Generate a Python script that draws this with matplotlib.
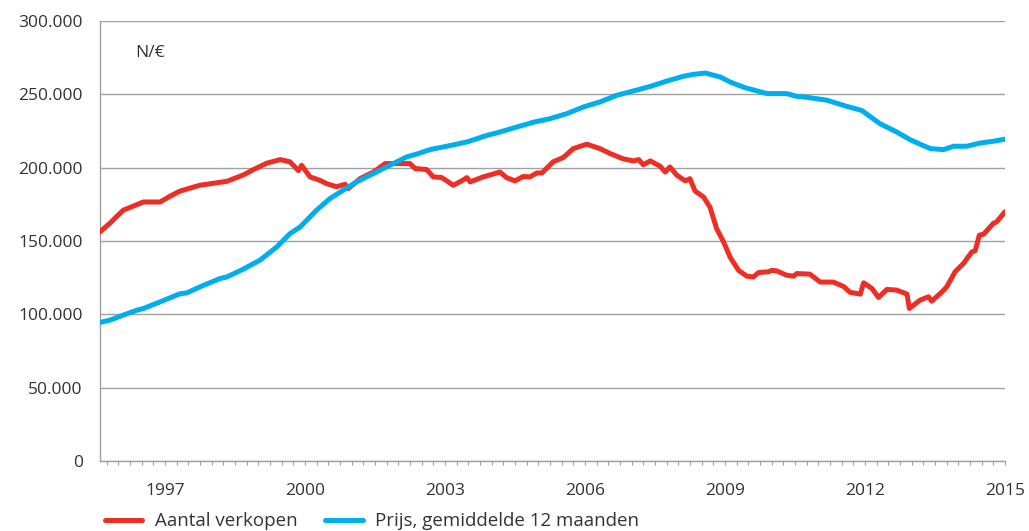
import numpy as np
import matplotlib
matplotlib.use('Agg')
from matplotlib import pyplot as plt
from matplotlib.ticker import MultipleLocator, FixedLocator, FuncFormatter

# Aantal verkopen
sales_year = [1995.6, 1995.82, 1995.93, 1996.11, 1996.54, 1996.90, 1997.11, 1997.32, 1997.75,
              1998.33, 1998.68, 1998.90, 1999.18, 1999.47, 1999.68, 1999.86, 1999.93, 2000.11,
              2000.32, 2000.47, 2000.68, 2000.86, 2000.93, 2001.18, 2001.47, 2001.72, 2002.25,
              2002.36, 2002.61, 2002.75, 2002.93, 2003.18, 2003.36, 2003.47, 2003.54, 2003.82,
              2004.18, 2004.32, 2004.50, 2004.68, 2004.82, 2004.97, 2005.08, 2005.32, 2005.54,
              2005.75, 2006.04, 2006.32, 2006.54, 2006.82, 2007.04, 2007.15, 2007.25, 2007.40,
              2007.61, 2007.72, 2007.82, 2007.97, 2008.15, 2008.25, 2008.36, 2008.54, 2008.68,
              2008.82, 2008.97, 2009.11, 2009.29, 2009.47, 2009.61, 2009.72, 2009.93, 2010.00,
              2010.11, 2010.32, 2010.47, 2010.54, 2010.82, 2011.04, 2011.32, 2011.54, 2011.68,
              2011.90, 2011.97, 2012.15, 2012.29, 2012.47, 2012.68, 2012.90, 2012.95, 2013.18,
              2013.36, 2013.43, 2013.65, 2013.75, 2013.93, 2014.11, 2014.29, 2014.36, 2014.45,
              2014.54, 2014.75, 2014.82, 2015.0]
sales = [156000, 162000, 165500, 171000, 176600, 176600, 180500, 184000, 188000,
         190700, 195000, 198700, 203000, 205500, 204000, 198000, 201600, 193700,
         191400, 189000, 187000, 188700, 185700, 192500, 197000, 202800, 202800,
         199400, 198700, 193700, 193300, 188000, 191000, 193200, 190300, 193700,
         197000, 193200, 191000, 194000, 193700, 196400, 196400, 204000, 207000,
         213000, 216000, 213000, 209600, 206000, 204600, 205500, 202000, 204600,
         201000, 197000, 200500, 194800, 191000, 192500, 184000, 180000, 173000,
         158500, 149400, 139000, 130000, 126000, 125500, 128500, 129000, 130000,
         129600, 126700, 126000, 127800, 127400, 122000, 122000, 119000, 115000,
         113800, 121500, 117600, 111500, 117000, 116500, 113800, 104000, 109700,
         112000, 109000, 115300, 118700, 129000, 134700, 142600, 143300, 154000,
         154600, 162000, 163000, 170000]

# Prijs, gemiddelde 12 maanden
price_year = [1995.61, 1995.82, 1996.11, 1996.40, 1996.54, 1996.90, 1997.32, 1997.47, 1997.75,
              1998.18, 1998.33, 1998.68, 1999.04, 1999.40, 1999.68, 1999.90, 2000.25, 2000.54,
              2000.82, 2001.11, 2001.47, 2001.82, 2002.18, 2002.43, 2002.68, 2003.04, 2003.47,
              2003.90, 2004.18, 2004.54, 2004.90, 2005.25, 2005.61, 2005.97, 2006.32, 2006.68,
              2007.04, 2007.40, 2007.75, 2008.11, 2008.32, 2008.58, 2008.90, 2009.11, 2009.43,
              2009.90, 2010.32, 2010.54, 2010.75, 2011.18, 2011.61, 2011.93, 2012.32, 2012.68,
              2012.97, 2013.18, 2013.40, 2013.68, 2013.90, 2014.18, 2014.47, 2014.75, 2015.0]
price = [94500, 96000, 99500, 102800, 104000, 108500, 114000, 114600, 118700,
         124400, 125500, 130800, 137000, 146000, 155000, 159600, 171000, 179000,
         184600, 190300, 196000, 201600, 207300, 209600, 212300, 214600, 217500,
         222000, 224300, 227700, 231000, 233400, 236800, 241400, 244800, 249300,
         252300, 255400, 259000, 262300, 263600, 264500, 261800, 258400, 254500,
         250500, 250500, 248600, 248000, 246000, 241800, 239000, 230000, 224300,
         219000, 216000, 213000, 212300, 214600, 214600, 216800, 218000, 219400]

year_ticks = [1997, 2000, 2003, 2006, 2009, 2012, 2015]

plt.rcParams['font.family'] = ['Open Sans', 'DejaVu Sans']
txt_col = '#333333'
grid_col = '#a0a0a0'

fig = plt.figure(figsize=(10.29, 5.31), dpi=100)
ax = fig.add_axes([0.0967, 0.1318, 0.88, 0.8287])

ax.plot(sales_year, sales, color='#ee2e24', lw=3.6, solid_capstyle='round',
        solid_joinstyle='round', label='Aantal verkopen', zorder=3)
ax.plot(price_year, price, color='#00aeef', lw=3.6, solid_capstyle='round',
        solid_joinstyle='round', label='Prijs, gemiddelde 12 maanden', zorder=3)

ax.set_xlim(1995.6, 2015.0)
ax.set_ylim(0, 300000)
ax.yaxis.set_major_locator(MultipleLocator(50000))
ax.yaxis.set_major_formatter(FuncFormatter(lambda v, p: '{:,.0f}'.format(v).replace(',', '.')))
ax.xaxis.set_major_locator(FixedLocator(year_ticks))
ax.xaxis.set_minor_locator(MultipleLocator(0.25))
ax.grid(axis='y', color=grid_col, lw=1.0, zorder=0)

for s in ['top', 'right']:
    ax.spines[s].set_visible(False)
for s in ['left', 'bottom']:
    ax.spines[s].set_color(grid_col)
    ax.spines[s].set_linewidth(1.0)

ax.tick_params(axis='y', length=0, pad=12, labelsize=12.5, labelcolor=txt_col)
ax.tick_params(axis='x', which='both', direction='out', length=3, width=0.8,
               color=grid_col, labelsize=12.5, labelcolor=txt_col)
ax.tick_params(axis='x', which='major', pad=13)

ax.text(0.039, 0.927, 'N/€', transform=ax.transAxes, fontsize=12.5,
        color=txt_col, va='center', ha='left')

fig.legend(loc='center left', bbox_to_anchor=(0.102, 0.018), ncol=2,
           frameon=False, fontsize=13.5, handlelength=2.0, columnspacing=1.5,
           handletextpad=0.65, borderaxespad=0, borderpad=0, labelcolor=txt_col)

plt.savefig('out.png', dpi=100)
